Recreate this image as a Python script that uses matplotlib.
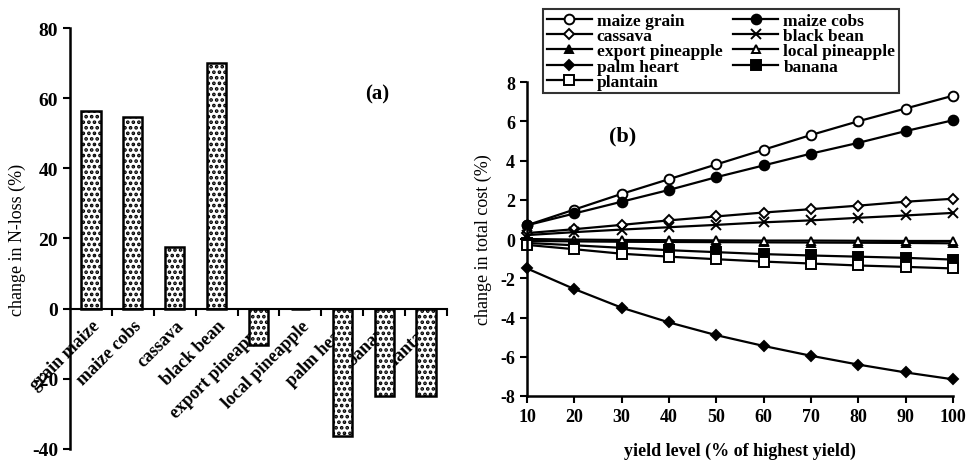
import matplotlib
matplotlib.use("Agg")
import matplotlib.pyplot as plt
import numpy as np

plt.rcParams['font.family'] = ['Liberation Serif', 'DejaVu Serif']
plt.rcParams['hatch.linewidth'] = 1.8
plt.rcParams['axes.unicode_minus'] = False

# panel (a)
crops_a = ["grain maize", "maize cobs", "cassava", "black bean", "export pineapple",
           "local pineapple", "palm heart", "banana", "plantain"]
n_loss = [56.3, 54.5, 17.6, 70.0, -10.5, 0.0, -36.3, -24.8, -24.8]

# panel (b)
yield_level = [10, 20, 30, 40, 50, 60, 70, 80, 90, 100]
maize_grain = [0.7, 1.5, 2.3, 3.05, 3.8, 4.55, 5.3, 6.0, 6.65, 7.3]
maize_cobs = [0.7, 1.3, 1.9, 2.5, 3.15, 3.75, 4.35, 4.9, 5.5, 6.05]
cassava = [0.3, 0.5, 0.72, 0.95, 1.15, 1.35, 1.52, 1.7, 1.9, 2.05]
black_bean = [0.2, 0.35, 0.48, 0.6, 0.72, 0.85, 0.95, 1.08, 1.2, 1.33]
export_pineapple = [-0.1, -0.12, -0.14, -0.15, -0.16, -0.17, -0.18, -0.19, -0.2, -0.22]
local_pineapple = [0.0, -0.03, -0.05, -0.06, -0.07, -0.08, -0.08, -0.09, -0.1, -0.1]
palm_heart = [-1.5, -2.55, -3.5, -4.25, -4.9, -5.45, -5.95, -6.4, -6.8, -7.15]
banana = [-0.2, -0.32, -0.45, -0.57, -0.67, -0.77, -0.84, -0.9, -0.96, -1.05]
plantain = [-0.3, -0.52, -0.75, -0.9, -1.03, -1.15, -1.25, -1.35, -1.42, -1.5]

fig = plt.figure(figsize=(9.68, 4.64), dpi=100)

# ---------- (a) ----------
ax1 = fig.add_axes([0.0723, 0.0302, 0.3895, 0.9073])
x = np.arange(len(crops_a))
ax1.bar(x, n_loss, width=0.46, color="white", edgecolor="black",
        linewidth=1.8, hatch="...", zorder=2)
ax1.set_xlim(-0.5, len(crops_a) - 0.5)
ax1.set_ylim(-40, 80)
ax1.set_yticks([-40, -20, 0, 20, 40, 60, 80])
ax1.spines['top'].set_visible(False)
ax1.spines['right'].set_visible(False)
ax1.spines['bottom'].set_position(('data', 0))
ax1.spines['left'].set_linewidth(1.8)
ax1.spines['bottom'].set_linewidth(1.5)
ax1.set_xticks(x)
ax1.set_xticklabels(crops_a, rotation=45, ha='right', rotation_mode='anchor',
                    fontsize=13, fontweight='bold')
ax1.set_xticks(np.arange(0.5, len(crops_a), 1.0), minor=True)
ax1.tick_params(axis='x', which='major', length=0, pad=6)
ax1.tick_params(axis='x', which='minor', length=5, width=1.5, direction='out')
ax1.tick_params(axis='y', length=5, width=1.5, labelsize=14)
for t in ax1.get_yticklabels():
    t.set_fontweight('bold')
ax1.set_ylabel("change in N-loss (%)", fontsize=13, labelpad=4)
ax1.text(6.83, 61.4, "(a)", fontsize=15, fontweight='bold', ha='center', va='center')

# ---------- (b) ----------
ax2 = fig.add_axes([0.5444, 0.1444, 0.4401, 0.6767])
series = [
    ("maize grain", maize_grain, 'o', 'white', 7),
    ("maize cobs", maize_cobs, 'o', 'black', 7),
    ("cassava", cassava, 'D', 'white', 5),
    ("black bean", black_bean, 'x', 'black', 7),
    ("export pineapple", export_pineapple, '^', 'black', 6),
    ("local pineapple", local_pineapple, '^', 'white', 6),
    ("palm heart", palm_heart, 'D', 'black', 5.5),
    ("banana", banana, 's', 'black', 6.5),
    ("plantain", plantain, 's', 'white', 6.5),
]
handles = {}
for label, vals, m, fc, ms in series:
    ln, = ax2.plot(yield_level, vals, color='black', linewidth=1.6, marker=m,
                   markerfacecolor=fc, markeredgecolor='black', markeredgewidth=1.4,
                   markersize=ms, label=label, clip_on=False)
    handles[label] = ln
ax2.set_xlim(10, 100)
ax2.set_ylim(-8, 8)
ax2.set_xticks(yield_level)
ax2.set_yticks(range(-8, 9, 2))
ax2.spines['top'].set_visible(False)
ax2.spines['right'].set_visible(False)
ax2.spines['left'].set_linewidth(1.8)
ax2.spines['bottom'].set_linewidth(1.8)
ax2.tick_params(length=5, width=1.5, labelsize=13)
for t in ax2.get_xticklabels() + ax2.get_yticklabels():
    t.set_fontweight('bold')
ax2.set_xlabel("yield level (% of highest yield)", fontsize=13, fontweight='bold', labelpad=12)
ax2.set_ylabel("change in total cost (%)", fontsize=13, labelpad=6)
ax2.text(30.3, 5.25, "(b)", fontsize=16, fontweight='bold', ha='center', va='center')

# legend filled row by row like the original
order = ["maize grain", "cassava", "export pineapple", "palm heart", "plantain",
         "maize cobs", "black bean", "local pineapple", "banana"]
leg = fig.legend([handles[k] for k in order], order, loc='upper left',
                 bbox_to_anchor=(0.561, 0.978), ncol=2,
                 prop={'weight': 'bold', 'size': 12.5},
                 frameon=True, fancybox=False, edgecolor='black',
                 labelspacing=-0.05, handlelength=2.6, handletextpad=0.3,
                 columnspacing=0.6, borderpad=0.2, borderaxespad=0)
leg.get_frame().set_linewidth(1.5)

fig.savefig("out.png", dpi=100)
